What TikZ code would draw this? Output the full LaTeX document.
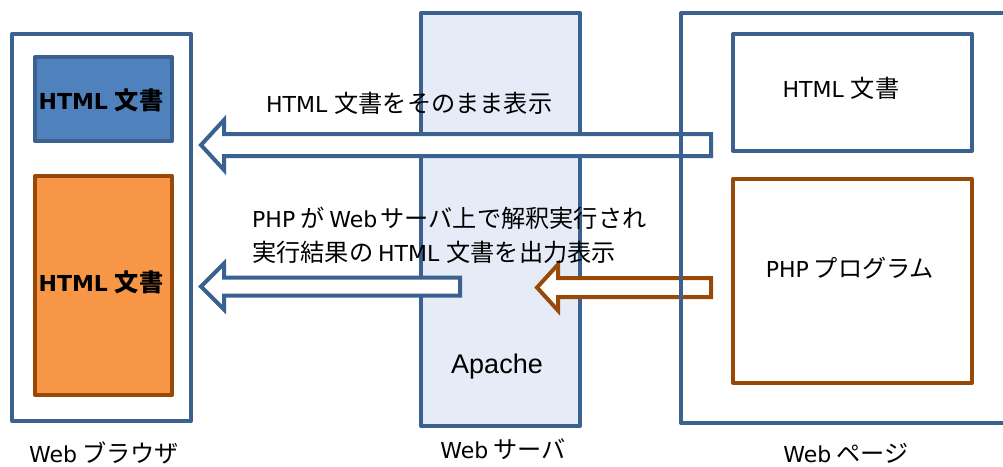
\documentclass[tikz,border=0pt]{standalone}
\usepackage{fontspec}
\setmainfont{DejaVu Sans}
\newfontfamily\jp[Scale=1.1]{Noto Sans CJK JP}
\newfontfamily\arl{Liberation Sans}
\definecolor{lineblue}{HTML}{3A6190}
\definecolor{fillblue}{HTML}{4F81BD}
\definecolor{fillorange}{HTML}{F79646}
\definecolor{linebrown}{HTML}{984807}
\definecolor{apachefill}{HTML}{E5ECF7}
\newcommand{\gp}{\hspace{5pt}}
\begin{document}
\begin{tikzpicture}[x=1pt,y=-1pt,
  box/.style={line width=4pt, line join=round, inner sep=0pt, outer sep=0pt},
  bbox/.style={box, draw=lineblue},
  obox/.style={box, draw=linebrown},
  barrow/.style={draw=lineblue, fill=white, line width=4pt, line join=miter},
  oarrow/.style={draw=linebrown, fill=white, line width=4pt, line join=miter},
  txt/.style={inner sep=0pt, font=\fontsize{22}{26}\selectfont, text=black},
  btxt/.style={txt, font=\fontsize{22}{26}\selectfont\bfseries}]
\useasboundingbox (0,0) rectangle (1003,466);
\clip (0,0) rectangle (1003,466);
% Web browser
\node[bbox, fill=white, minimum width=179pt, minimum height=387pt] (browser) at (101.5,227.5) {};
\node[bbox, fill=fillblue, minimum width=137pt, minimum height=84pt] (doc1) at (103.5,99) {};
\node[obox, fill=fillorange, minimum width=137pt, minimum height=219pt] (doc2) at (103.5,285.5) {};
\node[btxt] (doc1t) at (101,100) {HTML\hspace{7pt}{\jp\bfseries 文書}};
\node[btxt] (doc2t) at (101,282) {HTML\hspace{7pt}{\jp\bfseries 文書}};
% Web server
\node[bbox, fill=apachefill, minimum width=159pt, minimum height=413pt] (server) at (500.5,219.5) {};
\node[txt, font=\arl\fontsize{27}{31}\selectfont] (apache) at (497,367) {Apache};
% arrows
\coordinate (a1tail) at (711,145);
\coordinate (a1tip) at (201,145);
\path[barrow] ([yshift=-11pt]a1tail) -- ([yshift=-11pt]a1tip -| 224,0) -- ([yshift=-25pt]a1tip -| 224,0) -- (a1tip)
  -- ([yshift=25pt]a1tip -| 224,0) -- ([yshift=11pt]a1tip -| 224,0) -- ([yshift=11pt]a1tail) -- cycle;
\coordinate (a2tail) at (460,286.5);
\coordinate (a2tip) at (201,286.5);
\path[barrow] ([yshift=-9pt]a2tail) -- ([yshift=-9pt]a2tip -| 224,0) -- ([yshift=-23pt]a2tip -| 224,0) -- (a2tip)
  -- ([yshift=23pt]a2tip -| 224,0) -- ([yshift=9pt]a2tip -| 224,0) -- ([yshift=9pt]a2tail) -- cycle;
\coordinate (a3tail) at (711,287.5);
\coordinate (a3tip) at (537,287.5);
\path[oarrow] ([yshift=-9.5pt]a3tail) -- ([yshift=-9.5pt]a3tip -| 558,0) -- ([yshift=-23pt]a3tip -| 558,0) -- (a3tip)
  -- ([yshift=23pt]a3tip -| 558,0) -- ([yshift=9.5pt]a3tip -| 558,0) -- ([yshift=9.5pt]a3tail) -- cycle;
% Web page
\node[bbox, minimum width=339pt, minimum height=410pt] (page) at (850.5,218) {};
\node[bbox, minimum width=239pt, minimum height=117pt] (html) at (852.5,92.5) {};
\node[obox, minimum width=239pt, minimum height=204pt] (php) at (852.5,281) {};
\node[txt] (htmlt) at (841,88) {HTML\hspace{7pt}{\jp 文書}};
\node[txt] (phpt) at (850,268) {PHP\gp{\jp プログラム}};
% texts
\node[txt, anchor=west] (m1) at (266,103) {HTML\hspace{7pt}{\jp 文書をそのまま表示}};
\node[txt, anchor=west] (m2) at (252,218) {PHP\gp{\jp が}\gp Web\hspace{3pt}{\jp サーバ上で解釈実行され}};
\node[txt, anchor=west] (m3) at (252,252) {{\jp 実行結果の}\gp HTML\hspace{7pt}{\jp 文書を出力表示}};
\node[txt] (l1) at (104,453) {Web\gp{\jp ブラウザ}};
\node[txt] (l2) at (503,449) {Web\gp{\jp サーバ}};
\node[txt] (l3) at (846,453) {Web\gp{\jp ページ}};
\end{tikzpicture}
\end{document}
